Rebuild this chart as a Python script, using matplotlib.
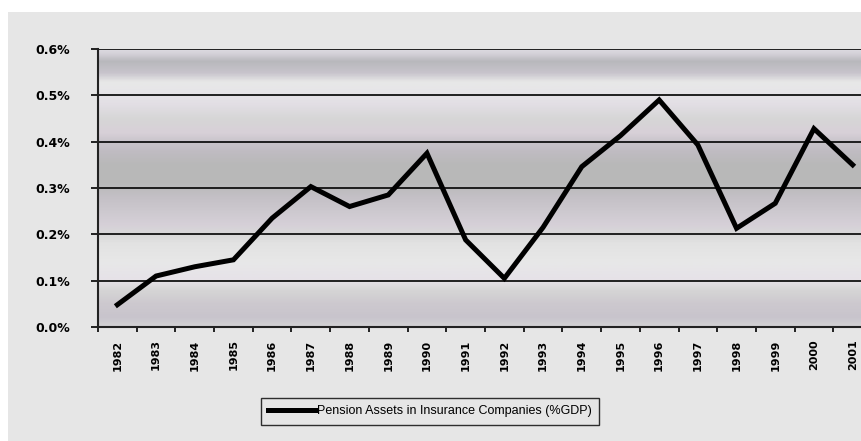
import matplotlib
matplotlib.use('Agg')
from matplotlib import pyplot as plt
from matplotlib.colors import LinearSegmentedColormap
import matplotlib.patches as mpatches
import numpy as np

years = [str(y) for y in range(1982, 2002)]
pension_assets = [0.048, 0.110, 0.130, 0.145, 0.235, 0.303, 0.260, 0.285, 0.375,
                  0.188, 0.105, 0.215, 0.346, 0.413, 0.490, 0.393, 0.213, 0.267,
                  0.428, 0.350]
y_ticks = [0.0, 0.1, 0.2, 0.3, 0.4, 0.5, 0.6]
y_labels = ['0.0%', '0.1%', '0.2%', '0.3%', '0.4%', '0.5%', '0.6%']
series_label = 'Pension Assets in Insurance Companies (%GDP)'

# background band colours (value, colour) bottom to top
band_stops = [
    (0.00, '#d2d2d4'), (0.02, '#c8c4cc'), (0.05, '#cdc9cf'), (0.08, '#d6d6d6'),
    (0.10, '#e6e2e8'), (0.14, '#e8e8e8'), (0.18, '#e2e2e2'), (0.20, '#d8d8d8'),
    (0.22, '#d6d0d8'), (0.25, '#cdc9cf'), (0.28, '#c4c0c6'), (0.31, '#b9b9b9'),
    (0.35, '#b8b8b8'), (0.38, '#c0bcc2'), (0.40, '#c8c4ca'), (0.42, '#d8d0d8'),
    (0.45, '#d6d6d6'), (0.48, '#e2dee4'), (0.50, '#e6e4e8'), (0.53, '#e8e8e8'),
    (0.55, '#c8c4cc'), (0.575, '#b8b8bc'), (0.59, '#d2cfd6'), (0.60, '#dcdae0'),
]


def main():
    plt.rcParams['font.family'] = ['Liberation Sans', 'DejaVu Sans']
    fig = plt.figure(figsize=(8.62, 4.41), dpi=100)
    fig.patch.set_facecolor('white')
    bg = mpatches.Rectangle(
        (8 / 862, 0), 1, 1 - 12 / 441, transform=fig.transFigure,
        facecolor='#e6e6e6', edgecolor='none')
    bg.set_zorder(-10)
    fig.add_artist(bg)

    ax = fig.add_axes([98 / 862, 1 - 327 / 441, 774 / 862, 278 / 441])
    ax.set_facecolor('none')

    n = len(years)
    x = np.arange(n)

    cmap = LinearSegmentedColormap.from_list(
        'bands', [(v / 0.6, c) for v, c in band_stops])
    grad = np.linspace(0, 1, 600).reshape(-1, 1)
    ax.imshow(grad, aspect='auto', cmap=cmap, origin='lower',
              extent=(-0.5, n - 0.5, 0, 0.6), zorder=0)
    ax.set_xlim(-0.5, n - 0.5)
    ax.set_ylim(0, 0.6)

    for t in y_ticks[1:]:
        ax.axhline(t, color='#111111', lw=1.3, zorder=1)

    ax.plot(x, pension_assets, color='black', lw=3.6, solid_joinstyle='miter',
            label=series_label, zorder=3)

    ax.set_yticks(y_ticks)
    ax.set_yticklabels(y_labels, fontsize=9, fontweight='bold',
                       family='DejaVu Sans')
    ax.set_xticks(x)
    ax.set_xticklabels(years, rotation=90, fontsize=8, fontweight='bold',
                       family='DejaVu Sans')
    ax.set_xticks(np.arange(n + 1) - 0.5, minor=True)
    ax.tick_params(axis='x', which='major', length=0, pad=9)
    ax.tick_params(axis='x', which='minor', length=3.6, width=1.2, direction='out')
    ax.tick_params(axis='y', length=5, width=1.2, direction='out', pad=15)

    for side in ['top', 'right']:
        ax.spines[side].set_visible(False)
    for side in ['left', 'bottom']:
        ax.spines[side].set_linewidth(1.5)
        ax.spines[side].set_color('#222222')

    leg = fig.legend(loc='center', bbox_to_anchor=(430 / 862, 1 - 411 / 441),
                     fontsize=9, frameon=True, fancybox=False,
                     handlelength=3.8, handletextpad=0.1, borderpad=0.6)
    leg.get_frame().set_edgecolor('black')
    leg.get_frame().set_facecolor('#e6e6e6')
    leg.get_frame().set_linewidth(1.0)

    plt.savefig('out.png', dpi=100)


if __name__ == '__main__':
    main()
